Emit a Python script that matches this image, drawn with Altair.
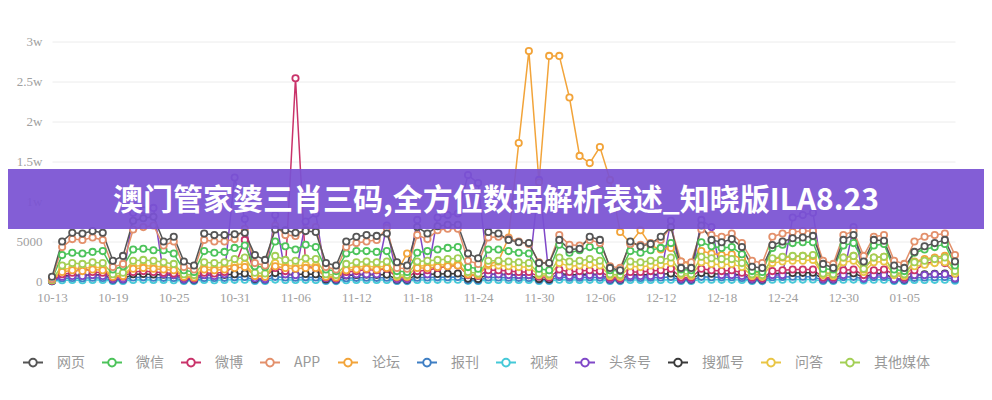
import altair as alt
import pandas as pd

# ---- categories ----
dates = [d.strftime("%m-%d") for d in pd.date_range("2019-10-13", "2020-01-10", freq="D")]
tick_labels = ["10-13", "10-19", "10-25", "10-31", "11-06", "11-12", "11-18", "11-24",
               "11-30", "12-06", "12-12", "12-18", "12-24", "12-30", "01-05"]
series_names = ["网页", "微信", "微博", "APP", "论坛", "报刊", "视频", "头条号", "搜狐号", "问答", "其他媒体"]
series_colors = ["#555555", "#4cc35a", "#c9336a", "#e3906b", "#f2a43a", "#3f7fc4",
                 "#45c9d8", "#8048c8", "#3a3a3a", "#e9c544", "#a3cf55"]

# ---- series values ----
wangye = [600,
          5000, 6100, 6000, 6300, 6100, 2600, 3200,
          7600, 7900, 8100, 5000, 5600, 2500, 2000,
          6000, 5800, 5800, 5900, 6100, 3300, 2700,
          6500, 6400, 6100, 6300, 6200, 2300, 2000,
          5000, 5600, 5800, 5700, 6000, 2400, 2000,
          6800, 6000, 6900, 7100, 7100, 3500, 2900,
          6200, 6000, 5200, 4900, 4800, 2300, 2300,
          5200, 4000, 4100, 5600, 5200, 1700, 1400,
          5000, 4400, 4700, 5600, 6800, 1700, 1700,
          7000, 5200, 4900, 5300, 4300, 1850, 1700,
          4550, 5000, 5400, 5500, 5700, 2200, 1700,
          5200, 5800, 2500, 5200, 5100, 2000, 1700,
          3700, 4400, 4800, 5200, 2500]
app = [300,
       4300, 5300, 5200, 5500, 5200, 1800, 2200,
       6500, 6800, 7000, 4500, 5000, 1800, 1500,
       5200, 5000, 5000, 5300, 6600, 2300, 2000,
       7000, 5800, 5700, 6500, 6800, 1800, 1500,
       4300, 4800, 5000, 5200, 6700, 1700, 1600,
       5800, 5300, 6400, 6600, 6600, 2600, 2200,
       5500, 5600, 5400, 5000, 4700, 2400, 2300,
       5800, 4600, 4500, 5200, 4800, 1900, 1700,
       4700, 4600, 4800, 5200, 6800, 2500, 2400,
       6500, 5800, 5600, 6000, 4800, 2600, 2300,
       5600, 6000, 6200, 6300, 6300, 2600, 2200,
       5800, 6300, 3200, 5600, 5800, 2600, 2200,
       5000, 5600, 5800, 6000, 3300]
weixin = [300,
          3300, 3600, 3500, 3700, 3800, 1500, 1900,
          4000, 4100, 3900, 3900, 3500, 1400, 1200,
          3800, 3600, 3700, 4200, 4500, 1900, 1800,
          5000, 4400, 4000, 4600, 4300, 1500, 1300,
          3500, 3800, 3800, 3700, 3800, 1300, 1200,
          3600, 3800, 4000, 4200, 4300, 1800, 1600,
          4000, 4000, 3800, 3600, 3500, 1600, 1400,
          4600, 3600, 3900, 4300, 3900, 1400, 1300,
          3800, 3600, 3900, 4200, 4800, 1500, 1400,
          4900, 4400, 4200, 4300, 3400, 1300, 1200,
          4200, 4600, 4800, 4900, 4900, 1600, 1500,
          4500, 4800, 2500, 4500, 4700, 1500, 1300,
          3600, 4000, 4300, 4700, 2000]
qita = [200,
        2000, 2300, 2200, 2400, 2300, 900, 1100,
        2600, 2700, 2600, 2400, 2200, 900, 800,
        2400, 2300, 2400, 2800, 3000, 1100, 1000,
        3200, 2700, 2600, 2900, 2800, 900, 800,
        2200, 2400, 2500, 2400, 2500, 800, 800,
        2500, 2600, 2700, 2800, 2900, 1200, 1000,
        2600, 2600, 2500, 2400, 2300, 1000, 900,
        3000, 2500, 2600, 2800, 2600, 900, 800,
        2500, 2400, 2600, 2700, 3000, 1000, 900,
        3100, 2900, 2800, 2800, 2300, 900, 800,
        2900, 3100, 3200, 3200, 3300, 1000, 900,
        3000, 3200, 1600, 3000, 3100, 1000, 900,
        2400, 2600, 2800, 3000, 1300]
wenda = [150,
         1500, 1700, 1600, 1800, 1700, 700, 800,
         1900, 2000, 1900, 1800, 1700, 700, 600,
         1800, 1700, 1800, 2100, 2200, 800, 700,
         2300, 2000, 1900, 2100, 2000, 700, 600,
         1700, 1800, 1900, 1800, 1900, 600, 600,
         1900, 2000, 2100, 2100, 2200, 900, 800,
         2000, 2000, 1900, 1800, 1800, 800, 700,
         2300, 1900, 2000, 2100, 2000, 700, 600,
         1900, 1800, 2000, 2100, 2300, 800, 700,
         2400, 2200, 2100, 2200, 1800, 700, 600,
         2300, 2500, 2600, 2600, 2700, 800, 700,
         2400, 2600, 1200, 2400, 2500, 800, 700,
         1900, 2100, 2300, 2400, 1000]
luntan = [200,
          1200, 1400, 1300, 1500, 1400, 600, 700,
          1600, 1700, 1600, 1500, 1400, 600, 500,
          1500, 1400, 1500, 1700, 1800, 700, 600,
          1900, 1700, 1600, 1700, 1700, 600, 500,
          1400, 1500, 1600, 1500, 1700, 1200, 3500,
          1700, 1700, 1800, 1900, 2000, 900, 800,
          2200, 2500, 5500, 17300, 28800, 12400, 28200,
          28200, 23000, 15700, 14800, 16800, 12700, 6200,
          4800, 6400, 4500, 4000, 4200, 2500, 2200,
          3800, 3500, 3300, 3400, 2800, 1200, 1000,
          2800, 3000, 3100, 3200, 3200, 1100, 1000,
          3000, 3200, 1500, 3000, 3100, 1100, 1000,
          2500, 2800, 3000, 3200, 1500]
weibo = [100,
         900, 1100, 1700, 1200, 1100, 500, 600,
         1200, 1300, 1200, 1100, 1000, 500, 400,
         1100, 1000, 1200, 1800, 5200, 700, 600,
         1700, 1300, 25400, 1900, 1700, 500, 400,
         1200, 1300, 1500, 1400, 1600, 500, 500,
         1300, 1400, 1700, 1900, 2000, 800, 700,
         1400, 1400, 1300, 1200, 1200, 600, 500,
         1500, 1200, 1300, 1400, 1300, 500, 400,
         1200, 1200, 1300, 1400, 1600, 500, 500,
         1600, 1400, 1300, 1400, 1100, 500, 400,
         1300, 1400, 1500, 1500, 1500, 500, 500,
         1400, 1500, 800, 1400, 1500, 900, 500,
         1400, 2200, 2500, 2300, 1000]
toutiao = [100,
           600, 700, 700, 800, 700, 300, 300,
           8600, 8900, 9200, 900, 800, 300, 300,
           800, 700, 900, 13000, 7800, 400, 300,
           8300, 900, 800, 7500, 8500, 400, 300,
           800, 900, 900, 900, 7000, 300, 300,
           7700, 900, 8000, 8300, 8500, 13300, 12300,
           900, 900, 800, 800, 800, 12700, 500,
           800, 700, 700, 800, 800, 300, 300,
           700, 700, 700, 800, 7600, 300, 300,
           7700, 6800, 800, 800, 700, 300, 300,
           800, 800, 8000, 8300, 8600, 300, 300,
           800, 6800, 400, 800, 800, 300, 300,
           800, 800, 900, 900, 400]
baokan = [50,
          400, 450, 420, 480, 440, 150, 180,
          500, 520, 480, 460, 430, 160, 140,
          450, 430, 460, 520, 560, 180, 160,
          580, 500, 480, 520, 500, 150, 130,
          420, 460, 480, 460, 480, 140, 130,
          480, 500, 520, 540, 560, 200, 170,
          500, 500, 480, 460, 450, 180, 160,
          560, 470, 480, 520, 490, 150, 140,
          470, 450, 480, 500, 560, 160, 150,
          580, 540, 520, 530, 440, 150, 140,
          540, 570, 590, 600, 600, 170, 160,
          550, 580, 300, 550, 570, 170, 150,
          460, 500, 530, 560, 250]
shipin = [20,
          150, 180, 170, 190, 180, 60, 70,
          200, 210, 190, 180, 170, 60, 50,
          180, 170, 180, 210, 230, 70, 60,
          240, 200, 190, 210, 200, 60, 50,
          170, 180, 190, 180, 190, 60, 50,
          190, 200, 210, 220, 230, 80, 70,
          200, 200, 190, 180, 180, 70, 60,
          230, 190, 190, 210, 200, 60, 50,
          190, 180, 190, 200, 230, 60, 60,
          240, 220, 210, 210, 180, 60, 50,
          220, 230, 240, 240, 250, 70, 60,
          220, 240, 120, 220, 230, 70, 60,
          180, 200, 210, 230, 100]
souhu = [60,
         700, 800, 760, 850, 800, 280, 320,
         900, 940, 880, 850, 800, 300, 260,
         820, 780, 830, 920, 1000, 330, 300,
         1050, 900, 860, 940, 900, 280, 250,
         760, 820, 860, 830, 860, 260, 240,
         860, 900, 940, 970, 1000, 360, 310,
         900, 900, 860, 820, 800, 320, 290,
         1000, 840, 860, 930, 880, 280, 250,
         850, 820, 860, 900, 1000, 290, 270,
         1050, 970, 930, 940, 800, 280, 250,
         970, 1020, 1060, 1080, 1090, 310, 280,
         980, 1040, 540, 980, 1020, 300, 270,
         820, 900, 950, 1000, 450]

# drawing order: lowest first, 网页 last (on top)
draw_order = [("视频", shipin), ("报刊", baokan), ("搜狐号", souhu), ("头条号", toutiao),
              ("微博", weibo), ("问答", wenda), ("论坛", luntan), ("其他媒体", qita),
              ("微信", weixin), ("APP", app), ("网页", wangye)]
rows = []
for name, vals in draw_order:
    assert len(vals) == len(dates), name
    for d, v in zip(dates, vals):
        rows.append({"date": d, "series": name, "value": v})
df = pd.DataFrame(rows)

x_enc = alt.X("date:O", sort=dates,
              scale=alt.Scale(type="point", padding=0),
              axis=alt.Axis(values=tick_labels, labelAngle=0, title=None, ticks=False, domain=False,
                            labelColor="#a0a0a0", labelFont="Liberation Serif", labelFontSize=13,
                            labelPadding=10, grid=False))
y_enc = alt.Y("value:Q", scale=alt.Scale(domain=[0, 30000], nice=False),
              axis=alt.Axis(values=[0, 5000, 10000, 15000, 20000, 25000, 30000], title=None,
                            labelExpr="datum.value >= 10000 ? (datum.value/10000) + 'w' : datum.value",
                            ticks=False, domain=False, labelColor="#a0a0a0",
                            labelFont="Liberation Serif", labelFontSize=13, labelPadding=10,
                            gridColor="#ececec", gridWidth=1))

legend_path = "M-1,0H-0.38M0.38,0H1M0.38,0A0.38,0.38,0,1,1,-0.38,0A0.38,0.38,0,1,1,0.38,0"

lines = alt.Chart(df).mark_line(strokeWidth=1.5).encode(
    x=x_enc, y=y_enc,
    color=alt.Color("series:N", scale=alt.Scale(domain=series_names, range=series_colors),
                    legend=alt.Legend(title=None, orient="none", direction="horizontal",
                                      legendX=-30, legendY=310,
                                      symbolType=legend_path, symbolSize=400,
                                      symbolStrokeWidth=2, symbolFillColor="white",
                                      labelFont="Noto Sans CJK SC", labelFontSize=14,
                                      labelColor="#999999", labelOffset=13, columnPadding=13,
                                      columns=11)),
    detail="series:N",
)
points = alt.Chart(df).mark_point(filled=True, fill="white", size=40, strokeWidth=1.8, opacity=1).encode(
    x=x_enc, y=y_enc,
    stroke=alt.Stroke("series:N", scale=alt.Scale(domain=series_names, range=series_colors), legend=None),
)

banner_df = pd.DataFrame({"t": ["澳门管家婆三肖三码,全方位数据解析表述_知晓版ILA8.23"]})
banner = alt.Chart(banner_df).mark_rect(color="#7a52d3", opacity=0.93).encode(
    x=alt.value(-44), x2=alt.value(932), y=alt.value(127.5), y2=alt.value(187.5))
banner_text = alt.Chart(banner_df).mark_text(color="white", font="Noto Sans CJK SC", fontSize=30,
                                             fontWeight="bold", align="center", baseline="middle").encode(
    x=alt.value(444), y=alt.value(159), text="t:N")

chart = alt.layer(lines, points, banner, banner_text).properties(
    width=903, height=240,
    autosize=alt.AutoSizeParams(type="none"),
    padding={"left": 44, "top": 33.5, "right": 29, "bottom": 100},
).configure_view(stroke=None).configure_axis(gridColor="#ececec")

chart.save("out.html", embed_options={"renderer": "svg", "actions": False})
